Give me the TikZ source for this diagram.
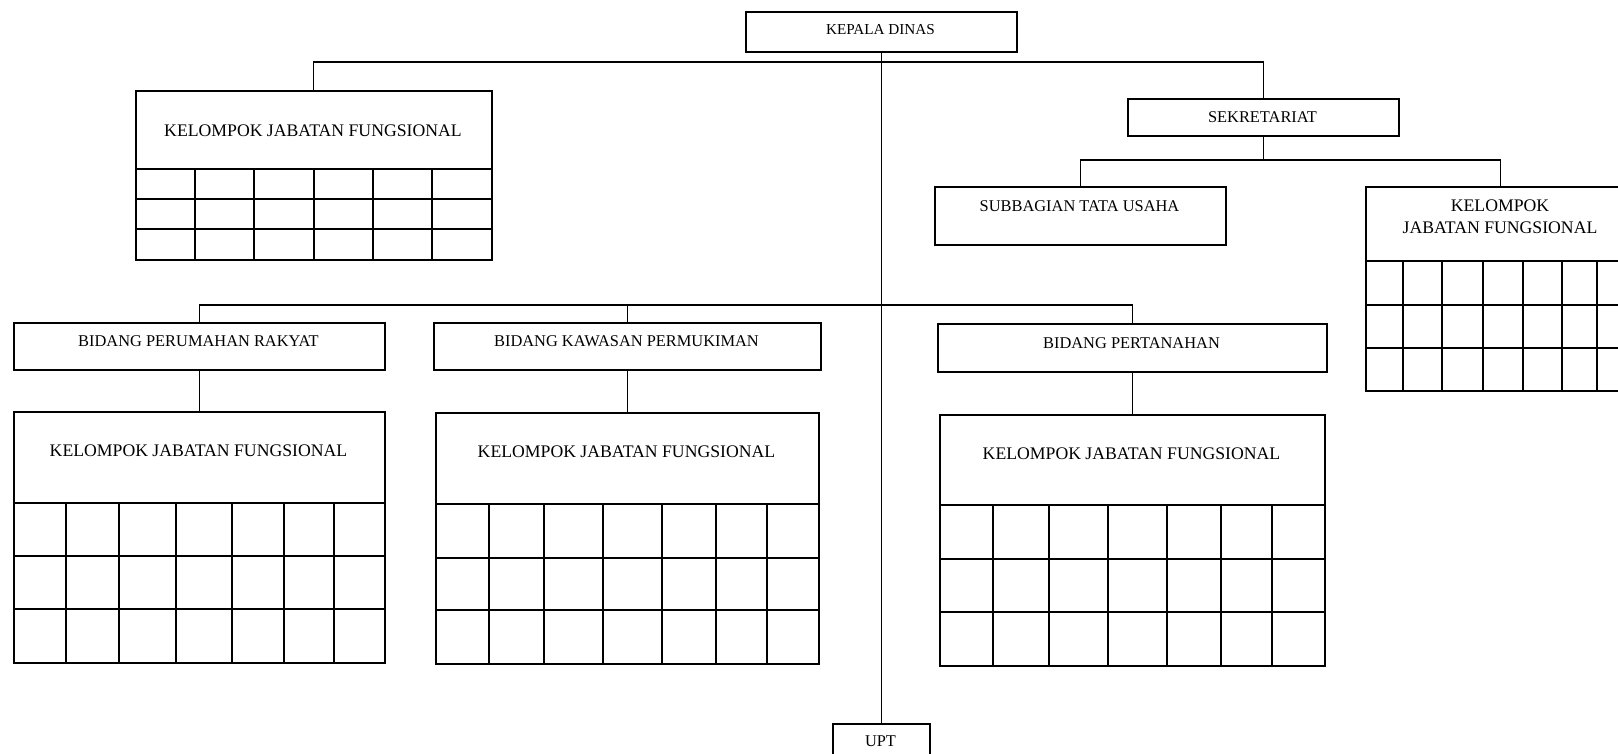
\documentclass[tikz,border=0pt]{standalone}
\usepackage{fontspec}
\setmainfont{Liberation Serif}
\newcommand\obox[5]{\node[box, minimum width={#4-#2}, minimum height={#5-#3}] (#1) at (#2,#3) {};}
\begin{document}
\begin{tikzpicture}[x=1pt,y=-1pt,
  box/.style={draw, line width=1.5pt, rectangle, inner sep=0pt, anchor=north west},
  lbl/.style={inner sep=0pt, align=center, font=\fontsize{16.4}{19}\selectfont},
  kjflbl/.style={inner sep=0pt, align=center, font=\fontsize{17.7}{21}\selectfont},
  conn/.style={line width=1.3pt},
  gridline/.style={line width=1.2pt}]
\clip (0,0) rectangle (1618,753);
\fill[white] (0,0) rectangle (1618,753);

% boxes
\obox{kd}{745}{11}{1016}{51}
\obox{sek}{1127}{98}{1398}{135}
\obox{sub}{934}{186}{1225}{244}
\obox{kjfA}{135}{90}{491}{259}
\obox{kjfR}{1365}{186}{1635}{390}
\obox{bpr}{13}{322}{384}{369}
\obox{bkp}{433}{322}{820}{369}
\obox{bp}{937}{323}{1326}{371}
\obox{kjfB}{13}{411}{384}{662}
\obox{kjfC}{435}{412}{818}{663}
\obox{kjfD}{939}{414}{1324}{665}
\obox{upt}{832}{723}{929}{770}

% labels
\node[lbl, font=\fontsize{15.2}{18}\selectfont] (tkd) at (880.5,30) {KEPALA DINAS};
\node[lbl] (tsek) at (1262.5,117) {SEKRETARIAT};
\node[lbl] (tsub) at (1079.5,206) {SUBBAGIAN TATA USAHA};
\node[lbl] (tbpr) at (198.5,341) {BIDANG PERUMAHAN RAKYAT};
\node[lbl] (tbkp) at (626.5,341) {BIDANG KAWASAN PERMUKIMAN};
\node[lbl] (tbp) at (1131.5,343) {BIDANG PERTANAHAN};
\node[lbl] (tupt) at (880.5,741) {UPT};
\node[kjflbl] (tkA) at (313,131) {KELOMPOK JABATAN FUNGSIONAL};
\node[kjflbl] (tkB) at (198.5,451) {KELOMPOK JABATAN FUNGSIONAL};
\node[kjflbl] (tkC) at (626.5,452) {KELOMPOK JABATAN FUNGSIONAL};
\node[kjflbl] (tkD) at (1131.5,454) {KELOMPOK JABATAN FUNGSIONAL};
\node[kjflbl] (tkR) at (1500,217) {KELOMPOK\\[1pt]JABATAN FUNGSIONAL};

% grids
\foreach \y in {169,199,229} \draw[gridline] (135,\y) -- (491,\y);
\foreach \x in {195,254,314,373,432} \draw[gridline] (\x,169) -- (\x,259);
\foreach \y in {261,305,348} \draw[gridline] (1365,\y) -- (1635,\y);
\foreach \x in {1403,1442,1483,1523,1562,1597} \draw[gridline] (\x,261) -- (\x,390);
\foreach \y in {503,556,609} \draw[gridline] (13,\y) -- (384,\y);
\foreach \x in {66,119,176,232,284,334} \draw[gridline] (\x,503) -- (\x,662);
\foreach \y in {504,558,610} \draw[gridline] (435,\y) -- (818,\y);
\foreach \x in {489,544,603,662,716,767} \draw[gridline] (\x,504) -- (\x,663);
\foreach \y in {505,559,612} \draw[gridline] (939,\y) -- (1324,\y);
\foreach \x in {993,1049,1108,1167,1221,1272} \draw[gridline] (\x,505) -- (\x,665);

% connectors
\coordinate (busA) at (880.5,62);
\coordinate (busB) at (880.5,305);
\coordinate (busC) at (1262.5,160);
\draw[conn] (kd.south) -- (upt.north);
\draw[conn] (kjfA.north) |- (busA) -| (sek.north);
\draw[conn] (sek.south) -- (sek.south |- busC);
\draw[conn] (sub.north) |- (busC) -| (kjfR.north);
\draw[conn] (bpr.north) |- (busB) -| (bp.north);
\draw[conn] (bkp.north) -- (bkp.north |- busB);
\draw[conn] (bpr.south) -- (bpr.south |- kjfB.north);
\draw[conn] (bkp.south) -- (bkp.south |- kjfC.north);
\draw[conn] (bp.south) -- (bp.south |- kjfD.north);
\end{tikzpicture}
\end{document}
